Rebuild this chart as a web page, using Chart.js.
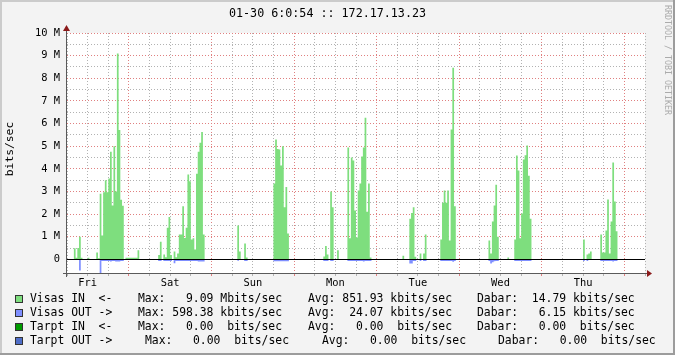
<!DOCTYPE html>
<html><head><meta charset="utf-8">
<script src="https://cdn.jsdelivr.net/npm/chart.js@4/dist/chart.umd.min.js"></script>
<style>html,body{margin:0;padding:0;background:#f3f3f3;}canvas{display:block;}</style>
</head><body>
<canvas id="c" width="675" height="355"></canvas>
<script>
// ---- data ----
const titleText = '01-30 6:0:54 :: 172.17.13.23';
const yAxisTitle = 'bits/sec';
const watermark = 'RRDTOOL / TOBI OETIKER';
const dayLabels = ['Fri', 'Sat', 'Sun', 'Mon', 'Tue', 'Wed', 'Thu'];
const hoursPerSample = 0.5;           // 30 minute averages, starting Fri 06:00
const xTickHours = [0,6,12,18,24,30,36,42,48,54,60,66,72,78,84,90,96,102,108,114,120,126,132,138,144,150,156,162,168];
const yTickValues = [0,0.5,1,1.5,2,2.5,3,3.5,4,4.5,5,5.5,6,6.5,7,7.5,8,8.5,9,9.5,10];
// Visas IN, Mbit/s
const visasIn = [
  0,0,0,0,0.49,0.07,0.5,1.0,0.07,0,0,0,0.07,0,0,0,0,0.3,0.05,2.9,1.06,2.97,3.5,2.97,
  3.57,4.75,2.38,5.0,3.0,9.09,5.72,2.63,2.37,0,0.07,0.07,0.07,0.07,0.07,0.07,0.07,0.4,0,0,0,0,0,0,
  0,0,0,0,0,0.2,0.78,0,0.22,0.1,1.4,1.87,0.2,0,0.35,0.1,0.26,1.1,1.1,2.35,0.95,1.4,3.75,3.45,
  0.88,0.93,0.44,3.78,4.75,5.15,5.63,1.1,0,0,0,0,0,0,0,0,0,0,0,0,0,0,0,0,
  0,0,0,1.5,0.35,0,0,0.7,0.09,0,0,0,0,0,0,0,0,0,0,0,0,0,0,0,
  3.35,5.3,4.88,4.85,4.15,5.0,2.3,3.2,1.15,0,0,0,0,0,0,0,0,0,0,0,0,0,0,0,
  0,0,0,0,0,0.13,0.59,0.22,0,3.0,2.3,0,0,0.41,0,0,0,0,0,4.94,0.94,4.5,4.37,2.16,
  0.97,3.04,3.35,4.54,4.94,6.26,2.1,3.35,0.08,0,0,0,0,0,0,0,0,0,0,0,0,0,0,0,
  0,0,0,0.16,0,0,0,1.8,2.05,2.3,0.12,0,0,0.26,0,0.26,1.1,0,0,0,0,0,0,0,
  0,0.88,2.5,3.04,2.5,3.04,0.84,5.74,8.47,2.35,0,0,0,0,0,0,0,0,0,0,0,0,0,0,
  0,0,0,0,0,0.84,0.26,1.68,2.38,3.3,1.0,0,0,0,0,0,0.09,0,0,0,0.88,4.59,3.93,0.93,
  2.03,4.41,4.6,5.03,3.7,1.8,0,0,0,0,0,0,0,0,0,0,0,0,0,0,0,0,0,0,
  0,0,0,0,0,0,0,0,0,0,0,0,0.88,0,0.22,0.26,0.35,0,0,0,0,0,1.1,0.3,
  0.3,1.28,2.65,0.26,1.68,4.28,2.56,1.24,0,0,0,0,0,0,0,0,0,0,0,0,0,0,0,0
];
// Visas OUT, Mbit/s (drawn below the zero line)
const visasOut = [
  0,0,0,0,0,0,0,0.49,0,0,0,0,0,0,0,0,0,0,0,0.6,0.07,0.07,0.07,0.07,
  0.07,0.09,0.07,0.07,0.09,0.09,0.09,0.07,0.07,0,0,0,0,0,0,0,0,0,0,0,0,0,0,0,
  0,0,0,0,0,0.07,0.07,0,0.07,0.07,0.07,0.07,0.07,0,0.17,0.07,0.07,0.07,0.07,0.07,0.07,0.07,0.07,0.07,
  0.07,0.07,0.07,0.07,0.09,0.09,0.09,0.09,0,0,0,0,0,0,0,0,0,0,0,0,0,0,0,0,
  0,0,0,0.06,0,0,0,0.07,0.07,0,0,0,0,0,0,0,0,0,0,0,0,0,0,0,
  0.08,0.08,0.08,0.08,0.08,0.08,0.08,0.08,0.08,0,0,0,0,0,0,0,0,0,0,0,0,0,0,0,
  0,0,0,0,0,0.07,0.07,0.07,0,0.07,0.07,0,0,0,0,0,0,0,0,0.07,0.07,0.07,0.07,0.07,
  0.07,0.07,0.07,0.07,0.09,0.07,0.07,0.07,0.07,0,0,0,0,0,0,0,0,0,0,0,0,0,0,0,
  0,0,0,0,0,0,0,0.18,0.18,0.07,0.07,0,0,0.07,0,0.07,0.07,0,0,0,0,0,0,0,
  0,0.07,0.07,0.07,0.07,0.07,0.07,0.07,0.1,0.07,0,0,0,0,0,0,0,0,0,0,0,0,0,0,
  0,0,0,0,0,0.07,0.18,0.13,0.08,0.07,0.07,0,0,0,0,0,0,0,0,0,0.07,0.07,0.07,0.07,
  0.07,0.07,0.07,0.07,0.07,0.07,0,0,0,0,0,0,0,0,0,0,0,0,0,0,0,0,0,0,
  0,0,0,0,0,0,0,0,0,0,0,0,0.07,0,0.07,0,0,0,0,0,0,0,0.07,0.07,
  0.07,0.07,0.07,0.07,0.07,0.09,0.07,0.07,0,0,0,0,0,0,0,0,0,0,0,0,0,0,0,0
];
const legendNames = ['Visas IN  <-', 'Visas OUT ->', 'Tarpt IN  <-', 'Tarpt OUT ->'];
const legendMax   = ['Max:   9.09 Mbits/sec', 'Max: 598.38 kbits/sec', 'Max:   0.00  bits/sec', 'Max:   0.00  bits/sec'];
const legendAvg   = ['Avg: 851.93 kbits/sec', 'Avg:  24.07 kbits/sec', 'Avg:   0.00  bits/sec', 'Avg:   0.00  bits/sec'];
const legendCur   = ['Dabar:  14.79 kbits/sec', 'Dabar:   6.15 kbits/sec', 'Dabar:   0.00  bits/sec', 'Dabar:   0.00  bits/sec'];
const legendColors = ['#7ede7e', '#7f8fff', '#009c00', '#4f6ec8'];

// ---- build ----
function toPoints(arr, sign) {
  const pts = arr.map((v, i) => ({ x: i * hoursPerSample, y: sign * v }));
  pts.push({ x: arr.length * hoursPerSample, y: sign * arr[arr.length - 1] });
  return pts;
}
const MONO = "'DejaVu Sans Mono', monospace";
const RED_GRID = 'rgb(224,128,128)';
const GRAY_GRID = 'rgb(178,178,178)';

const deco = {
  id: 'deco',
  beforeDraw(chart) {
    const c = chart.ctx, a = chart.chartArea, W = chart.width, H = chart.height;
    c.save();
    c.fillStyle = '#f3f3f3'; c.fillRect(0, 0, W, H);
    c.fillStyle = '#cbcbcb'; c.fillRect(0, 0, W, 2); c.fillRect(0, 0, 2, H);
    c.fillStyle = '#9c9c9c'; c.fillRect(0, H - 2, W, 2); c.fillRect(W - 2, 0, 2, H);
    c.fillStyle = '#ffffff'; c.fillRect(a.left, a.top, a.right - a.left, a.bottom - a.top);
    c.restore();
  },
  afterDatasetsDraw(chart) {
    const c = chart.ctx, a = chart.chartArea, y = chart.scales.y;
    c.save();
    const y0 = Math.floor(y.getPixelForValue(0)) + 0.5;
    c.strokeStyle = '#000'; c.lineWidth = 1;
    c.beginPath(); c.moveTo(a.left, y0); c.lineTo(a.right, y0); c.stroke();
    // axes
    c.strokeStyle = '#5a5a5a';
    c.beginPath(); c.moveTo(a.left - 0.5, a.bottom + 4); c.lineTo(a.left - 0.5, a.top - 4); c.stroke();
    c.beginPath(); c.moveTo(a.left - 4, a.bottom + 0.5); c.lineTo(a.right + 3, a.bottom + 0.5); c.stroke();
    // arrows
    c.fillStyle = '#8b1a1a';
    c.beginPath(); c.moveTo(a.left - 0.5, a.top - 8); c.lineTo(a.left - 4, a.top - 2); c.lineTo(a.left + 3, a.top - 2); c.closePath(); c.fill();
    c.beginPath(); c.moveTo(a.right + 7, a.bottom + 0.5); c.lineTo(a.right + 2, a.bottom - 3); c.lineTo(a.right + 2, a.bottom + 4); c.closePath(); c.fill();
    c.restore();
  },
  afterDraw(chart) {
    const c = chart.ctx;
    c.save();
    c.fillStyle = '#000';
    c.textBaseline = 'middle';
    c.font = '11.7px ' + MONO;
    c.textAlign = 'center';
    c.fillText(titleText, 327.5, 14);
    // y title
    c.save();
    c.translate(10, 149); c.rotate(-Math.PI / 2);
    c.font = '11.3px ' + MONO;
    c.fillText(yAxisTitle, 0, 0);
    c.restore();
    // watermark
    c.save();
    c.translate(667, 5); c.rotate(Math.PI / 2);
    c.font = '8.3px ' + MONO; c.textAlign = 'left'; c.fillStyle = '#ababab';
    c.fillText(watermark, 0, 0);
    c.restore();
    // legend
    c.font = '11.4px ' + MONO; c.textAlign = 'left';
    const rowY = [299, 313, 327, 341];
    for (let r = 0; r < 4; r++) {
      const yy = rowY[r];
      c.fillStyle = legendColors[r];
      c.fillRect(15, yy - 4, 8, 8);
      c.strokeStyle = '#333'; c.lineWidth = 1;
      c.strokeRect(15.5, yy - 3.5, 7, 7);
      c.fillStyle = '#000';
      const sh = r === 3 ? 7 : 0;
      c.fillText(legendNames[r], 30, yy);
      c.fillText(legendMax[r], 138 + sh, yy);
      c.fillText(legendAvg[r], 308 + 2 * sh, yy);
      c.fillText(legendCur[r], 477 + 3 * sh, yy);
    }
    c.restore();
  }
};

new Chart(document.getElementById('c'), {
  type: 'line',
  data: {
    datasets: [
      { label: 'Visas IN', data: toPoints(visasIn, 1), stepped: true, fill: 'origin',
        backgroundColor: legendColors[0], borderWidth: 0, borderColor: 'rgba(0,0,0,0)', pointRadius: 0 },
      { label: 'Visas OUT', data: toPoints(visasOut, -1), stepped: true, fill: 'origin',
        backgroundColor: legendColors[1], borderWidth: 0, borderColor: 'rgba(0,0,0,0)', pointRadius: 0 }
    ]
  },
  options: {
    responsive: false, animation: false, devicePixelRatio: 1,
    layout: { padding: { left: 0, right: 30, top: 33, bottom: 0 } },
    plugins: { legend: { display: false }, tooltip: { enabled: false } },
    scales: {
      x: {
        type: 'linear', min: 0, max: 168,
        afterBuildTicks: s => { s.ticks = xTickHours.map(v => ({ value: v })); },
        afterFit: s => { s.height = 82; },
        grid: {
          color: ctx => ((ctx.tick.value - 18) % 24 === 0 ? RED_GRID : GRAY_GRID),
          tickColor: ctx => ((ctx.tick.value - 18) % 24 === 0 ? RED_GRID : GRAY_GRID),
          lineWidth: 1, drawTicks: true, tickLength: 3
        },
        border: { display: false, dash: [1, 2] },
        ticks: {
          autoSkip: false, maxRotation: 0, padding: 1, color: '#000',
          font: { family: MONO, size: 10.4 },
          callback: v => ((v - 6) % 24 === 0 ? dayLabels[(v - 6) / 24] : '')
        }
      },
      y: {
        type: 'linear', min: -0.6, max: 10,
        afterBuildTicks: s => { s.ticks = yTickValues.map(v => ({ value: v })); },
        afterFit: s => { s.width = 67; },
        grid: {
          color: ctx => (Number.isInteger(ctx.tick.value) ? RED_GRID : GRAY_GRID),
          lineWidth: 1, drawTicks: false
        },
        border: { display: false, dash: [1, 2] },
        ticks: {
          autoSkip: false, padding: 7, color: '#000',
          font: { family: MONO, size: 10.4 },
          callback: v => (Number.isInteger(v) ? (v === 0 ? '0' : v + ' M') : '')
        }
      }
    }
  },
  plugins: [deco]
});
</script>
</body></html>
